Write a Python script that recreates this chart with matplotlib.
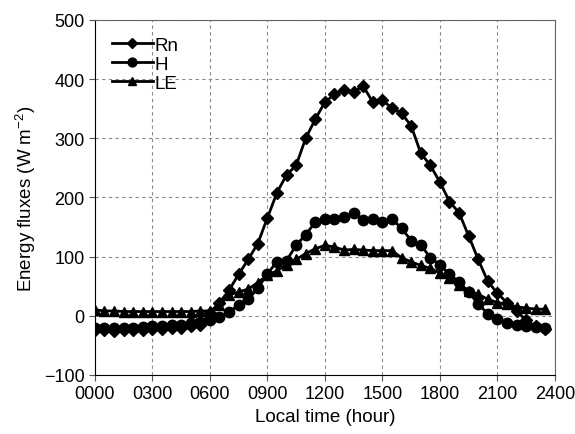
import matplotlib
matplotlib.use("Agg")
import matplotlib.pyplot as plt
from matplotlib.ticker import FuncFormatter

plt.rcParams['font.family'] = ['Liberation Sans', 'DejaVu Sans']

# local time, every half hour
hours = [i * 0.5 for i in range(48)]

rn = [-25, -25, -26, -25, -24, -24, -23, -22, -21, -20, -18, -16,
      5, 22, 43, 70, 95, 122, 165, 208, 238, 254, 300, 332,
      361, 374, 382, 378, 388, 361, 364, 351, 342, 321, 275, 254,
      226, 193, 174, 135, 95, 58, 38, 22, 8, -8, -18, -22]

h = [-20, -20, -21, -20, -20, -19, -18, -17, -16, -15, -13, -11,
     -8, -2, 6, 18, 28, 46, 71, 91, 93, 119, 137, 158,
     163, 163, 166, 173, 161, 164, 159, 163, 148, 127, 120, 98,
     86, 70, 57, 40, 20, 3, -5, -12, -15, -17, -19, -21]

le = [10, 8, 8, 7, 7, 7, 7, 7, 7, 7, 7, 8,
      8, 18, 35, 40, 45, 56, 68, 76, 86, 95, 105, 113,
      119, 116, 111, 112, 111, 110, 110, 110, 98, 91, 85, 80,
      72, 64, 52, 41, 36, 28, 22, 20, 15, 13, 11, 11]

fig = plt.figure(figsize=(5.75, 4.35), dpi=100)
ax = fig.add_axes([0.165, 0.136, 0.8, 0.816])

ax.plot(hours, rn, color='black', lw=2, marker='D', ms=6.5, label='Rn')
ax.plot(hours, h, color='black', lw=2, marker='o', ms=7.5, label='H')
ax.plot(hours, le, color='black', lw=2, marker='^', ms=6.5, label='LE')

ax.set_xlim(0, 24)
ax.set_ylim(-100, 500)
ax.set_xticks(range(0, 25, 3))
ax.set_yticks(range(-100, 501, 100))
ax.xaxis.set_major_formatter(FuncFormatter(lambda v, p: f"{int(round(v * 100)):04d}"))
ax.grid(True, color='#888888', linestyle=(0, (3, 3)), linewidth=0.8)
ax.set_axisbelow(True)

ax.tick_params(axis='both', labelsize=13, direction='out', length=4, color='#555555')
ax.set_xlabel("Local time (hour)", fontsize=13.5)
ax.set_ylabel("Energy fluxes (W m$^{\\mathregular{-2}}$)", fontsize=13.5)

for s in ['top', 'right']:
    ax.spines[s].set_color('#666666')

ax.legend(loc='upper left', frameon=False, fontsize=13.5, handlelength=2.2,
          handletextpad=0.1, labelspacing=0.1, borderaxespad=0.5,
          markerscale=0.85)

fig.savefig("out.png", dpi=100)
